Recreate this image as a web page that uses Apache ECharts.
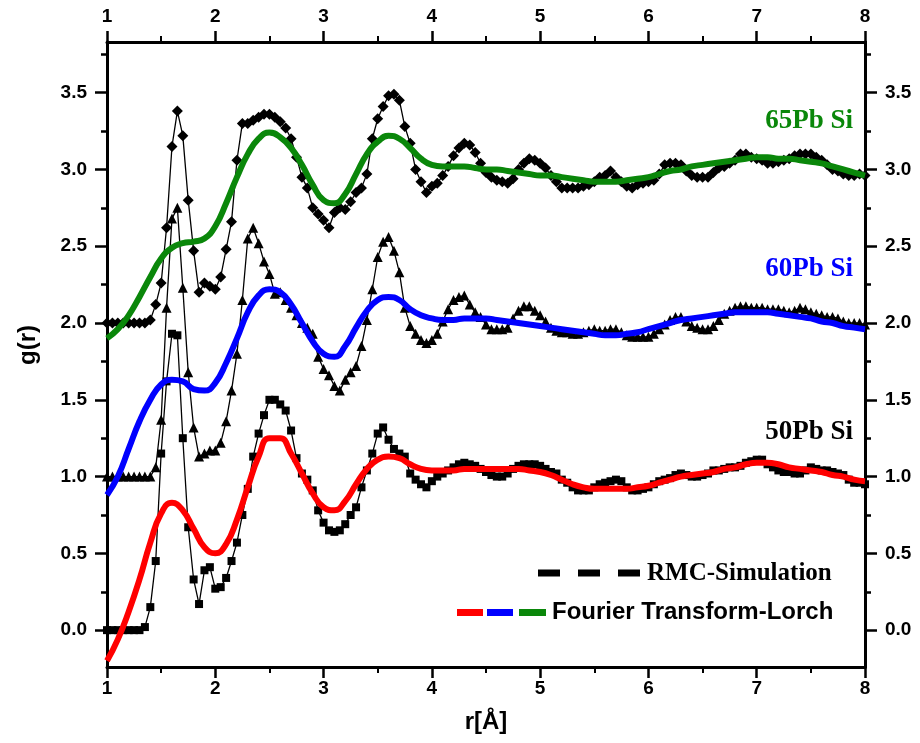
<!DOCTYPE html>
<html><head><meta charset="utf-8">
<script src="https://cdn.jsdelivr.net/npm/echarts@6/dist/echarts.min.js"></script>
<style>html,body{margin:0;padding:0;background:#fff}#c{width:920px;height:743px}</style>
</head><body><div id="c"></div>
<script>
// r grid for RMC points (Å)
const rRMC = [
1.00,1.05,1.10,1.15,1.20,1.25,1.30,1.35,1.40,1.45,
1.50,1.55,1.60,1.65,1.70,1.75,1.80,1.85,1.90,1.95,
2.00,2.05,2.10,2.15,2.20,2.25,2.30,2.35,2.40,2.45,
2.50,2.55,2.60,2.65,2.70,2.75,2.80,2.85,2.90,2.95,
3.00,3.05,3.10,3.15,3.20,3.25,3.30,3.35,3.40,3.45,
3.50,3.55,3.60,3.65,3.70,3.75,3.80,3.85,3.90,3.95,
4.00,4.05,4.10,4.15,4.20,4.25,4.30,4.35,4.40,4.45,
4.50,4.55,4.60,4.65,4.70,4.75,4.80,4.85,4.90,4.95,
5.00,5.05,5.10,5.15,5.20,5.25,5.30,5.35,5.40,5.45,
5.50,5.55,5.60,5.65,5.70,5.75,5.80,5.85,5.90,5.95,
6.00,6.05,6.10,6.15,6.20,6.25,6.30,6.35,6.40,6.45,
6.50,6.55,6.60,6.65,6.70,6.75,6.80,6.85,6.90,6.95,
7.00,7.05,7.10,7.15,7.20,7.25,7.30,7.35,7.40,7.45,
7.50,7.55,7.60,7.65,7.70,7.75,7.80,7.85,7.90,7.95,
8.00];
// RMC simulation, 50PbSi (squares)
const rmc50 = [
0.00,0.00,0.00,0.00,0.00,0.00,0.00,0.02,0.15,0.45,
1.15,1.62,1.93,1.92,1.25,0.67,0.33,0.17,0.39,0.41,
0.27,0.28,0.34,0.45,0.57,0.75,0.92,1.13,1.28,1.40,
1.50,1.50,1.47,1.43,1.30,1.12,1.02,0.98,0.91,0.78,
0.70,0.65,0.64,0.65,0.69,0.75,0.80,0.93,1.04,1.15,
1.28,1.32,1.24,1.18,1.15,1.13,1.02,0.98,0.95,0.93,
0.97,1.00,1.02,1.04,1.06,1.08,1.09,1.08,1.07,1.05,
1.03,1.01,1.00,1.00,1.02,1.05,1.07,1.08,1.08,1.08,
1.07,1.05,1.03,1.02,0.98,0.96,0.93,0.91,0.91,0.91,
0.93,0.95,0.96,0.97,0.98,0.97,0.93,0.91,0.91,0.92,
0.93,0.95,0.97,0.98,0.99,1.01,1.02,1.01,1.00,1.00,
1.01,1.02,1.04,1.04,1.05,1.06,1.06,1.07,1.09,1.10,
1.11,1.11,1.08,1.06,1.04,1.03,1.03,1.02,1.02,1.04,
1.06,1.05,1.04,1.04,1.03,1.02,1.01,0.98,0.96,0.96,
0.95];
// RMC simulation, 60PbSi (triangles)
const rmc60 = [
1.00,1.00,1.00,1.00,1.00,1.00,1.00,1.00,1.00,1.06,
1.37,2.10,2.68,2.75,2.23,1.68,1.32,1.13,1.15,1.17,
1.17,1.22,1.36,1.56,1.80,2.15,2.55,2.62,2.52,2.40,
2.32,2.19,2.20,2.15,2.10,2.05,2.00,1.97,1.93,1.78,
1.70,1.66,1.59,1.56,1.63,1.68,1.72,1.85,2.02,2.22,
2.43,2.53,2.56,2.47,2.33,2.10,1.98,1.93,1.89,1.87,
1.89,1.93,2.01,2.09,2.15,2.17,2.18,2.12,2.07,2.04,
1.99,1.96,1.96,1.96,1.97,2.03,2.08,2.11,2.11,2.08,
2.05,2.01,1.97,1.95,1.94,1.94,1.93,1.93,1.94,1.95,
1.96,1.95,1.95,1.96,1.96,1.94,1.92,1.91,1.91,1.91,
1.91,1.93,1.96,1.99,2.02,2.04,2.04,2.01,1.98,1.97,
1.96,1.96,1.98,2.02,2.06,2.08,2.10,2.11,2.11,2.10,
2.10,2.10,2.09,2.09,2.09,2.08,2.07,2.08,2.10,2.09,
2.07,2.06,2.05,2.04,2.04,2.03,2.01,2.00,2.00,2.00,
1.99];
// RMC simulation, 65PbSi (diamonds)
const rmc65 = [
2.00,2.00,2.00,2.00,2.00,2.00,2.00,2.00,2.02,2.12,
2.26,2.62,3.15,3.38,3.22,2.80,2.47,2.20,2.26,2.24,
2.22,2.30,2.48,2.66,3.06,3.30,3.30,3.32,3.34,3.36,
3.36,3.34,3.31,3.27,3.20,3.08,2.95,2.88,2.75,2.71,
2.67,2.62,2.72,2.75,2.74,2.79,2.85,2.88,2.97,3.20,
3.33,3.41,3.48,3.49,3.45,3.28,3.17,3.00,2.92,2.85,
2.89,2.91,2.96,3.02,3.09,3.14,3.17,3.16,3.11,3.04,
2.98,2.95,2.93,2.92,2.91,2.94,3.00,3.04,3.07,3.06,
3.04,3.01,2.96,2.92,2.88,2.88,2.88,2.88,2.89,2.90,
2.92,2.95,2.96,2.99,2.95,2.92,2.89,2.88,2.90,2.91,
2.92,2.93,2.97,3.03,3.04,3.04,3.03,2.99,2.96,2.95,
2.95,2.95,2.98,3.01,3.02,3.04,3.06,3.10,3.10,3.08,
3.07,3.06,3.04,3.04,3.05,3.06,3.07,3.09,3.10,3.10,
3.10,3.08,3.06,3.03,3.00,2.99,2.97,2.96,2.96,2.97,
2.96];
// r grid for Fourier transform curves
const rFT = [
1.0,1.1,1.2,1.3,1.4,1.5,1.6,1.7,1.8,1.9,
2.0,2.1,2.2,2.3,2.4,2.5,2.6,2.7,2.8,2.9,
3.0,3.1,3.2,3.3,3.4,3.5,3.6,3.7,3.8,3.9,
4.0,4.1,4.2,4.3,4.4,4.5,4.6,4.7,4.8,4.9,
5.0,5.1,5.2,5.3,5.4,5.5,5.6,5.7,5.8,5.9,
6.0,6.1,6.2,6.3,6.4,6.5,6.6,6.7,6.8,6.9,
7.0,7.1,7.2,7.3,7.4,7.5,7.6,7.7,7.8,7.9,
8.0];
const ft50 = [
-0.20,-0.06,0.12,0.33,0.57,0.76,0.83,0.78,0.66,0.54,
0.50,0.56,0.72,0.93,1.13,1.25,1.25,1.15,1.02,0.89,
0.80,0.78,0.84,0.95,1.05,1.11,1.13,1.12,1.08,1.05,
1.04,1.04,1.04,1.05,1.05,1.05,1.05,1.05,1.05,1.04,
1.03,1.01,0.98,0.95,0.93,0.92,0.92,0.92,0.92,0.93,
0.94,0.96,0.98,1.00,1.01,1.02,1.03,1.05,1.06,1.08,
1.09,1.09,1.08,1.06,1.05,1.04,1.03,1.01,1.00,0.98,
0.97];
const ft60 = [
0.88,1.00,1.18,1.36,1.50,1.60,1.63,1.62,1.57,1.56,
1.61,1.74,1.90,2.07,2.18,2.22,2.20,2.12,2.00,1.88,
1.80,1.78,1.85,1.97,2.08,2.15,2.17,2.15,2.09,2.05,
2.03,2.02,2.02,2.03,2.03,2.03,2.02,2.01,2.00,1.99,
1.98,1.97,1.96,1.95,1.94,1.93,1.92,1.92,1.93,1.94,
1.96,1.98,2.00,2.02,2.03,2.04,2.05,2.06,2.07,2.07,
2.07,2.07,2.06,2.05,2.04,2.03,2.01,2.00,1.98,1.97,
1.96];
const ft65 = [
1.90,1.96,2.05,2.17,2.30,2.42,2.49,2.52,2.53,2.55,
2.63,2.78,2.95,3.10,3.20,3.24,3.21,3.14,3.03,2.90,
2.80,2.78,2.84,2.97,3.10,3.18,3.22,3.20,3.14,3.07,
3.03,3.02,3.02,3.02,3.01,3.00,3.00,2.99,2.98,2.97,
2.96,2.96,2.95,2.94,2.93,2.92,2.92,2.92,2.93,2.94,
2.95,2.97,2.99,3.00,3.02,3.03,3.04,3.05,3.06,3.07,
3.08,3.08,3.07,3.07,3.06,3.05,3.04,3.02,3.00,2.98,
2.96];
const xTicks = [1,2,3,4,5,6,7,8];
const yMajor = [0,0.5,1,1.5,2,2.5,3,3.5];
const yMinor = [0.25,0.75,1.25,1.75,2.25,2.75,3.25,3.75];
const sampleLabels = ['50Pb Si','60Pb Si','65Pb Si'];
const legendTexts = ['RMC-Simulation','Fourier Transform-Lorch'];

const pair = (xs, ys) => xs.map((x, i) => [x, ys[i]]);
const chart = echarts.init(document.getElementById('c'), null, {renderer: 'canvas'});
const TICKFONT = {color: '#000', fontWeight: 'bold', fontSize: 19, fontFamily: "'Liberation Sans Narrow','Arial Narrow','Liberation Sans',Arial,sans-serif"};
const YMIN = -0.24, YMAX = 3.83;
const axLine = {show: true, onZero: false, lineStyle: {color: '#000', width: 3}};
function yAx(pos, custom, len, labels) {
  return {
    type: 'value', position: pos, min: YMIN, max: YMAX,
    axisLine: axLine,
    axisTick: {show: true, inside: false, length: len, customValues: custom, lineStyle: {color: '#000', width: 2.5}},
    axisLabel: labels ? Object.assign({show: true, margin: 20, customValues: custom, formatter: v => v.toFixed(1)}, TICKFONT) : {show: false},
    splitLine: {show: false}
  };
}
function xAx(pos, margin) {
  return {
    type: 'value', position: pos, min: 1, max: 8, interval: 1,
    axisLine: axLine,
    axisTick: {show: true, inside: false, length: 11, lineStyle: {color: '#000', width: 2.5}},
    minorTick: {show: true, splitNumber: 2, length: 6, lineStyle: {color: '#000', width: 2}},
    axisLabel: Object.assign({show: true, margin: margin}, TICKFONT),
    splitLine: {show: false}
  };
}
const rmcStyle = (sym, size) => ({
  type: 'line', xAxisIndex: 0, yAxisIndex: 0, symbol: sym, symbolSize: size,
  showSymbol: true, showAllSymbol: true,
  lineStyle: {color: '#000', width: 1.3}, itemStyle: {color: '#000'}, z: 2, animation: false
});
const ftStyle = (color) => ({
  type: 'line', xAxisIndex: 0, yAxisIndex: 0, smooth: 0.5, symbol: 'none',
  lineStyle: {color: color, width: 6}, z: 3, animation: false
});
const RED = '#ff0000', BLUE = '#0000ff', GREEN = '#0a870a';
chart.setOption({
  backgroundColor: '#fff',
  animation: false,
  grid: {left: 107, right: 55, top: 42, bottom: 76, containLabel: false},
  xAxis: [xAx('bottom', 12), xAx('top', 16)],
  yAxis: [yAx('left', yMajor, 12, true), yAx('left', yMinor, 6, false), yAx('right', yMajor, 12, true), yAx('right', yMinor, 6, false)],
  series: [
    Object.assign({name: 'RMC 50', data: pair(rRMC, rmc50)}, rmcStyle('rect', 8)),
    Object.assign({name: 'RMC 60', data: pair(rRMC, rmc60)}, rmcStyle('triangle', 10)),
    Object.assign({name: 'RMC 65', data: pair(rRMC, rmc65)}, rmcStyle('diamond', 11)),
    Object.assign({name: 'FT 50', data: pair(rFT, ft50)}, ftStyle(RED)),
    Object.assign({name: 'FT 60', data: pair(rFT, ft60)}, ftStyle(BLUE)),
    Object.assign({name: 'FT 65', data: pair(rFT, ft65)}, ftStyle(GREEN))
  ],
  graphic: [
    {type: 'text', x: 28, y: 345, rotation: Math.PI / 2, style: {text: 'g(r)', fill: '#000', font: "bold 24px 'Liberation Sans',Arial,sans-serif", align: 'center', verticalAlign: 'middle'}},
    {type: 'text', x: 486, y: 722, style: {text: 'r[Å]', fill: '#000', font: "bold 24px 'Liberation Sans',Arial,sans-serif", align: 'center', verticalAlign: 'middle'}},
    {type: 'text', x: 853, y: 121, style: {text: sampleLabels[2], fill: GREEN, font: "bold 27px 'Liberation Serif','Times New Roman',serif", align: 'right', verticalAlign: 'middle'}},
    {type: 'text', x: 853, y: 269, style: {text: sampleLabels[1], fill: BLUE, font: "bold 27px 'Liberation Serif','Times New Roman',serif", align: 'right', verticalAlign: 'middle'}},
    {type: 'text', x: 853, y: 432, style: {text: sampleLabels[0], fill: '#000', font: "bold 27px 'Liberation Serif','Times New Roman',serif", align: 'right', verticalAlign: 'middle'}},
    {type: 'line', shape: {x1: 538, y1: 573, x2: 642, y2: 573}, style: {stroke: '#000', lineWidth: 7, lineDash: [22, 18]}},
    {type: 'text', x: 647, y: 574, style: {text: legendTexts[0], fill: '#000', font: "bold 25px 'Liberation Serif','Times New Roman',serif", align: 'left', verticalAlign: 'middle'}},
    {type: 'rect', shape: {x: 457, y: 609, width: 26, height: 7}, style: {fill: RED}},
    {type: 'rect', shape: {x: 487, y: 609, width: 26, height: 7}, style: {fill: BLUE}},
    {type: 'rect', shape: {x: 519, y: 609, width: 27, height: 7}, style: {fill: GREEN}},
    {type: 'text', x: 552, y: 612, style: {text: legendTexts[1], fill: '#000', font: "bold 24px 'Liberation Sans Narrow','Arial Narrow','Liberation Sans',Arial,sans-serif", align: 'left', verticalAlign: 'middle'}}
  ]
});
</script></body></html>
